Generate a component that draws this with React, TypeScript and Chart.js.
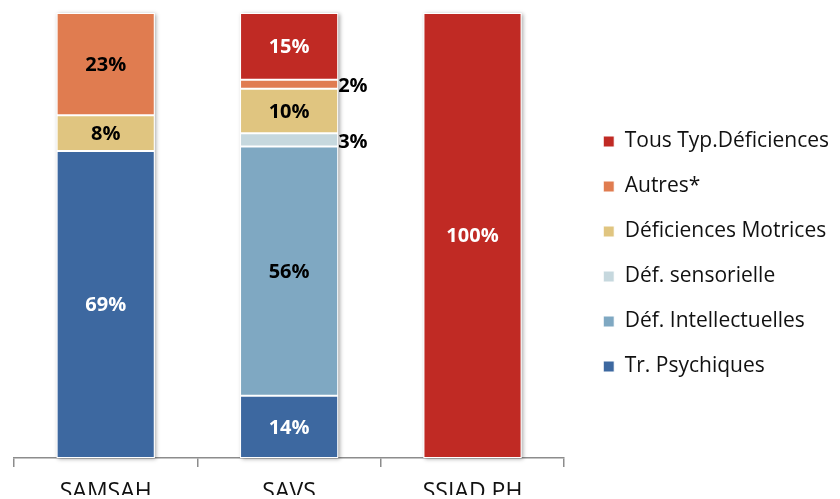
import React, { useEffect, useRef } from "react";
import { Chart, registerables } from "chart.js";

Chart.register(...registerables);

const categories = ["SAMSAH", "SAVS", "SSIAD PH"];
const seriesNames = [
  "Tr. Psychiques",
  "Déf. Intellectuelles",
  "Déf. sensorielle",
  "Déficiences Motrices",
  "Autres*",
  "Tous Typ.Déficiences",
];
const trPsychiques = [69, 14, 0];
const defIntellectuelles = [0, 56, 0];
const defSensorielle = [0, 3, 0];
const defMotrices = [8, 10, 0];
const autres = [23, 2, 0];
const tousTyp = [0, 15, 100];
const seriesColors = ["#3D68A0", "#7FA8C2", "#C6D8DE", "#E0C580", "#E07C50", "#C02A24"];
const labelColors = ["#FFFFFF", "#000000", "#000000", "#000000", "#000000", "#FFFFFF"];

const FONT = "'Open Sans', 'DejaVu Sans', sans-serif";

const shadowPlugin = {
  id: "barShadow",
  beforeDatasetsDraw(chart: any) {
    const ctx = chart.ctx;
    const metas = chart.getSortedVisibleDatasetMetas();
    if (!metas.length) return;
    const n = metas[0].data.length;
    for (let i = 0; i < n; i++) {
      let top = Infinity;
      let base = -Infinity;
      let x = 0;
      let w = 0;
      metas.forEach((m: any) => {
        const el = m.data[i];
        const p = el.getProps(["x", "y", "base", "width"], true);
        top = Math.min(top, p.y, p.base);
        base = Math.max(base, p.y, p.base);
        x = p.x;
        w = p.width;
      });
      ctx.save();
      ctx.shadowColor = "rgba(0,0,0,0.35)";
      ctx.shadowBlur = 4;
      ctx.shadowOffsetX = 1.5;
      ctx.shadowOffsetY = 1;
      ctx.fillStyle = "#ffffff";
      ctx.fillRect(x - w / 2, top, w, base - top);
      ctx.restore();
    }
  },
};

const valueLabelPlugin = {
  id: "valueLabels",
  afterDatasetsDraw(chart: any) {
    const ctx = chart.ctx;
    ctx.save();
    ctx.font = `bold 20px ${FONT}`;
    ctx.textBaseline = "middle";
    chart.data.datasets.forEach((ds: any, di: number) => {
      const meta = chart.getDatasetMeta(di);
      meta.data.forEach((el: any, i: number) => {
        const v = ds.data[i];
        if (!v) return;
        const p = el.getProps(["x", "y", "base", "width"], true);
        const cy = (p.y + p.base) / 2;
        if (v < 5) {
          ctx.fillStyle = "#000000";
          ctx.textAlign = "left";
          ctx.fillText(v + "%", p.x + p.width / 2, cy + 2);
        } else {
          ctx.fillStyle = labelColors[di];
          ctx.textAlign = "center";
          ctx.fillText(v + "%", p.x, cy + 1);
        }
      });
    });
    ctx.restore();
  },
};

export default function App() {
  const ref = useRef<HTMLCanvasElement>(null);
  useEffect(() => {
    document.body.style.margin = "0";
    document.body.style.overflow = "hidden";
    const values = [trPsychiques, defIntellectuelles, defSensorielle, defMotrices, autres, tousTyp];
    const chart = new Chart(ref.current as HTMLCanvasElement, {
      type: "bar",
      data: {
        labels: categories,
        datasets: seriesNames.map((name, i) => ({
          label: name,
          data: values[i],
          backgroundColor: seriesColors[i],
          borderColor: "#ffffff",
          borderWidth: 1,
          borderSkipped: false,
          barPercentage: 0.535,
          categoryPercentage: 1,
        })),
      },
      options: {
        responsive: false,
        animation: false,
        layout: { padding: { top: 13, left: 14, right: 1, bottom: 17 } },
        plugins: {
          tooltip: { enabled: false },
          legend: {
            position: "right",
            reverse: true,
            align: "center",
            maxWidth: 400,
            labels: {
              boxWidth: 11,
              boxHeight: 11,
              padding: 24,
              color: "#111111",
              font: { family: FONT, size: 21 },
            },
          },
        },
        scales: {
          x: {
            stacked: true,
            grid: {
              display: true,
              drawOnChartArea: false,
              drawTicks: true,
              tickLength: 9,
              color: "#8c8c8c",
              lineWidth: 1.5,
              offset: true,
            },
            border: { display: true, color: "#8c8c8c", width: 1.5 },
            ticks: {
              color: "#111111",
              padding: 12,
              font: { family: FONT, size: 23 },
            },
            afterFit: (scale: any) => {
              scale.height = 37;
            },
          },
          y: {
            stacked: true,
            position: "right",
            min: 0,
            max: 100,
            grid: { display: false, drawTicks: false },
            border: { display: false },
            ticks: { display: false },
            afterFit: (scale: any) => {
              scale.width = 15;
            },
          },
        },
      },
      plugins: [shadowPlugin, valueLabelPlugin],
    });
    return () => chart.destroy();
  }, []);
  return (
    <div style={{ width: 840, height: 499, overflow: "hidden", position: "relative", background: "#fff" }}>
      <canvas ref={ref} width={840} height={512} style={{ display: "block" }} />
    </div>
  );
}
